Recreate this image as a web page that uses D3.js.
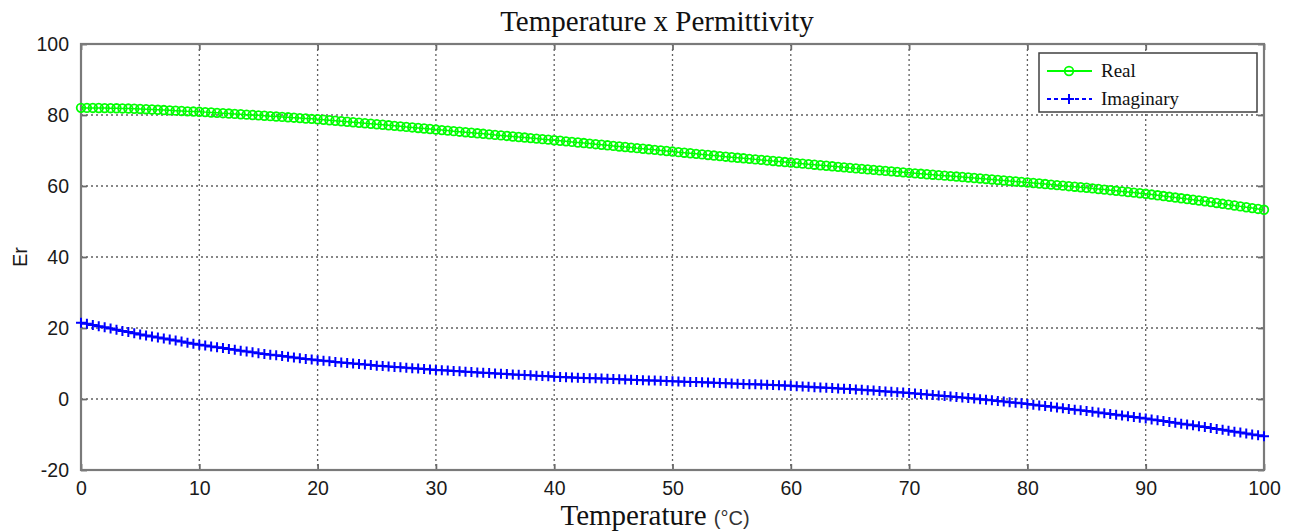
<!DOCTYPE html>
<html lang="en">
<head>
    <meta charset="UTF-8">
    <title>Temperature x Permittivity</title>
    <script src="https://d3js.org/d3.v7.min.js"></script>
    <style>
        body { margin: 0; background: #fff; }
        .tick-label { font-family: "Liberation Sans", Arial, sans-serif; font-size: 19.5px; fill: #1a1a1a; }
        .grid { stroke: #606060; stroke-width: 1.3; stroke-dasharray: 2,3; }
    </style>
</head>
<body>
<svg width="1293" height="532"></svg>

<script>
    // temperature samples (°C)
    var temperature = [
        0,0.5,1,1.5,2,2.5,3,3.5,4,4.5,5,5.5,6,6.5,7,7.5,8,8.5,9,9.5,
        10,10.5,11,11.5,12,12.5,13,13.5,14,14.5,15,15.5,16,16.5,17,17.5,18,18.5,19,19.5,
        20,20.5,21,21.5,22,22.5,23,23.5,24,24.5,25,25.5,26,26.5,27,27.5,28,28.5,29,29.5,
        30,30.5,31,31.5,32,32.5,33,33.5,34,34.5,35,35.5,36,36.5,37,37.5,38,38.5,39,39.5,
        40,40.5,41,41.5,42,42.5,43,43.5,44,44.5,45,45.5,46,46.5,47,47.5,48,48.5,49,49.5,
        50,50.5,51,51.5,52,52.5,53,53.5,54,54.5,55,55.5,56,56.5,57,57.5,58,58.5,59,59.5,
        60,60.5,61,61.5,62,62.5,63,63.5,64,64.5,65,65.5,66,66.5,67,67.5,68,68.5,69,69.5,
        70,70.5,71,71.5,72,72.5,73,73.5,74,74.5,75,75.5,76,76.5,77,77.5,78,78.5,79,79.5,
        80,80.5,81,81.5,82,82.5,83,83.5,84,84.5,85,85.5,86,86.5,87,87.5,88,88.5,89,89.5,
        90,90.5,91,91.5,92,92.5,93,93.5,94,94.5,95,95.5,96,96.5,97,97.5,98,98.5,99,99.5,
        100
    ];

    var realPart = [
        82.02,82.00,81.99,81.97,81.95,81.92,81.89,81.85,81.81,81.76,
        81.70,81.63,81.55,81.47,81.39,81.31,81.22,81.13,81.03,80.97,
        80.90,80.81,80.71,80.61,80.51,80.41,80.31,80.21,80.10,80.00,
        79.90,79.79,79.68,79.57,79.46,79.35,79.24,79.13,79.02,78.91,
        78.80,78.66,78.52,78.38,78.24,78.10,77.96,77.82,77.68,77.54,
        77.40,77.25,77.10,76.95,76.80,76.65,76.50,76.35,76.20,76.05,
        75.90,75.75,75.60,75.45,75.30,75.15,75.00,74.85,74.70,74.55,
        74.40,74.25,74.10,73.95,73.80,73.65,73.50,73.35,73.20,73.05,
        72.90,72.74,72.58,72.42,72.26,72.10,71.94,71.78,71.62,71.46,
        71.30,71.14,70.98,70.82,70.66,70.50,70.34,70.18,70.02,69.86,
        69.70,69.54,69.38,69.22,69.06,68.90,68.74,68.58,68.42,68.26,
        68.10,67.95,67.80,67.65,67.50,67.35,67.20,67.05,66.90,66.75,
        66.60,66.45,66.30,66.15,66.00,65.85,65.70,65.55,65.40,65.25,
        65.10,64.96,64.82,64.68,64.54,64.40,64.26,64.12,63.98,63.84,
        63.70,63.57,63.44,63.31,63.18,63.05,62.92,62.79,62.66,62.53,
        62.40,62.26,62.12,61.98,61.84,61.70,61.56,61.42,61.28,61.14,
        61.00,60.85,60.70,60.55,60.40,60.25,60.10,59.95,59.80,59.65,
        59.50,59.33,59.16,58.99,58.82,58.65,58.48,58.31,58.14,57.97,
        57.80,57.59,57.38,57.17,56.96,56.75,56.54,56.33,56.12,55.91,
        55.70,55.46,55.22,54.98,54.74,54.50,54.26,54.02,53.78,53.54,
        53.30
    ];

    var imagPart = [
        21.50,21.17,20.84,20.51,20.18,19.85,19.52,19.19,18.86,18.53,
        18.20,17.91,17.62,17.33,17.04,16.75,16.46,16.17,15.88,15.59,
        15.30,15.06,14.82,14.58,14.34,14.10,13.86,13.62,13.38,13.14,
        12.90,12.70,12.50,12.30,12.10,11.90,11.70,11.50,11.30,11.10,
        10.90,10.75,10.60,10.45,10.30,10.15,10.00,9.85,9.70,9.55,
        9.40,9.28,9.16,9.04,8.92,8.80,8.68,8.56,8.44,8.32,
        8.20,8.10,8.00,7.90,7.80,7.70,7.60,7.50,7.40,7.30,
        7.20,7.11,7.02,6.93,6.84,6.75,6.66,6.57,6.48,6.39,
        6.30,6.23,6.16,6.09,6.02,5.95,5.88,5.81,5.74,5.67,
        5.60,5.54,5.48,5.42,5.36,5.30,5.24,5.18,5.12,5.06,
        5.00,4.94,4.88,4.82,4.76,4.70,4.64,4.58,4.52,4.46,
        4.40,4.33,4.26,4.19,4.12,4.05,3.98,3.91,3.84,3.77,
        3.70,3.61,3.52,3.43,3.34,3.25,3.16,3.07,2.98,2.89,
        2.80,2.69,2.58,2.47,2.36,2.25,2.14,2.03,1.92,1.81,
        1.70,1.56,1.42,1.28,1.14,1.00,0.86,0.72,0.58,0.44,
        0.30,0.13,-0.04,-0.21,-0.38,-0.55,-0.72,-0.89,-1.06,-1.23,
        -1.40,-1.60,-1.80,-2.00,-2.20,-2.40,-2.60,-2.80,-3.00,-3.20,
        -3.40,-3.61,-3.82,-4.03,-4.24,-4.45,-4.66,-4.87,-5.08,-5.29,
        -5.50,-5.74,-5.98,-6.22,-6.46,-6.70,-6.94,-7.18,-7.42,-7.66,
        -7.90,-8.16,-8.42,-8.68,-8.94,-9.20,-9.46,-9.72,-9.98,-10.24,
        -10.50
    ];

    var xTicks = [0, 10, 20, 30, 40, 50, 60, 70, 80, 90, 100];
    var yTicks = [-20, 0, 20, 40, 60, 80, 100];
    var seriesNames = ["Real", "Imaginary"];

    var svg = d3.select("svg"),
        pLeft = 81, pRight = 1264, pTop = 44, pBottom = 470;

    var x = d3.scaleLinear().domain([0, 100]).range([pLeft, pRight]),
        y = d3.scaleLinear().domain([-20, 100]).range([pBottom, pTop]);

    // dotted grid
    var g = svg.append("g");
    g.selectAll(".gx").data(xTicks.slice(1, -1)).enter().append("line")
        .attr("class", "grid")
        .attr("x1", function(d) { return x(d); }).attr("x2", function(d) { return x(d); })
        .attr("y1", pTop).attr("y2", pBottom);
    g.selectAll(".gy").data(yTicks.slice(1, -1)).enter().append("line")
        .attr("class", "grid")
        .attr("y1", function(d) { return y(d); }).attr("y2", function(d) { return y(d); })
        .attr("x1", pLeft).attr("x2", pRight);

    // axes with inward ticks on all sides (box on)
    var tickLen = 6;
    svg.append("g").attr("transform", "translate(0," + pBottom + ")")
        .call(d3.axisBottom(x).tickValues(xTicks).tickSizeInner(-tickLen).tickSizeOuter(0)
            .tickPadding(11).tickFormat(String));
    svg.append("g").attr("transform", "translate(0," + pTop + ")")
        .call(d3.axisTop(x).tickValues(xTicks).tickSizeInner(-tickLen).tickSizeOuter(0).tickFormat(""));
    svg.append("g").attr("transform", "translate(" + pLeft + ",0)")
        .call(d3.axisLeft(y).tickValues(yTicks).tickSizeInner(-tickLen).tickSizeOuter(0)
            .tickPadding(12).tickFormat(String));
    svg.append("g").attr("transform", "translate(" + pRight + ",0)")
        .call(d3.axisRight(y).tickValues(yTicks).tickSizeInner(-tickLen).tickSizeOuter(0).tickFormat(""));

    svg.selectAll(".domain").remove();
    svg.selectAll(".tick line").attr("stroke", "#6a6a6a").attr("stroke-width", 1.8);
    svg.selectAll(".tick text").attr("class", "tick-label").attr("fill", "#1a1a1a");

    svg.append("rect")
        .attr("x", pLeft).attr("y", pTop)
        .attr("width", pRight - pLeft).attr("height", pBottom - pTop)
        .attr("fill", "none").attr("stroke", "#7a7a7a").attr("stroke-width", 2.2);

    // series
    var realData = temperature.map(function(t, i) { return [t, realPart[i]]; });
    var imagData = temperature.map(function(t, i) { return [t, imagPart[i]]; });
    var line = d3.line().x(function(d) { return x(d[0]); }).y(function(d) { return y(d[1]); });

    svg.append("path").datum(realData).attr("d", line)
        .attr("fill", "none").attr("stroke", "#00ff00").attr("stroke-width", 1.5);
    svg.selectAll(".mr").data(realData).enter().append("circle")
        .attr("cx", function(d) { return x(d[0]); })
        .attr("cy", function(d) { return y(d[1]); })
        .attr("r", 4.3).attr("fill", "none").attr("stroke", "#00ff00").attr("stroke-width", 1.8);

    svg.append("path").datum(imagData).attr("d", line)
        .attr("fill", "none").attr("stroke", "#0000ff").attr("stroke-width", 1.5)
        .attr("stroke-dasharray", "5,3");
    svg.selectAll(".mi").data(imagData).enter().append("path")
        .attr("transform", function(d) { return "translate(" + x(d[0]) + "," + y(d[1]) + ")"; })
        .attr("d", "M-5,0H5M0,-5V5")
        .attr("stroke", "#0000ff").attr("stroke-width", 2);

    // titles
    svg.append("text").attr("x", 657).attr("y", 31).attr("text-anchor", "middle")
        .attr("font-family", "Liberation Serif, Times New Roman, serif").attr("font-size", 29).attr("fill", "#111")
        .text("Temperature x Permittivity");

    var xl = svg.append("text").attr("x", 655).attr("y", 525).attr("text-anchor", "middle")
        .attr("font-family", "Liberation Serif, Times New Roman, serif").attr("font-size", 29).attr("fill", "#111");
    xl.append("tspan").text("Temperature ");
    xl.append("tspan").attr("font-family", "Liberation Sans, Arial, sans-serif").attr("font-size", 20)
        .attr("fill", "#333").text("(°C)");

    svg.append("text").attr("transform", "translate(27,257) rotate(-90)").attr("text-anchor", "middle")
        .attr("font-family", "Liberation Sans, Arial, sans-serif").attr("font-size", 20).attr("fill", "#1a1a1a")
        .text("Er");

    // legend
    var lg = svg.append("g");
    lg.append("rect").attr("x", 1039).attr("y", 53).attr("width", 218).attr("height", 59)
        .attr("fill", "#fff").attr("stroke", "#404040").attr("stroke-width", 1.5);
    var rows = [
        { name: seriesNames[0], color: "#00ff00", dash: null, y: 71 },
        { name: seriesNames[1], color: "#0000ff", dash: "4,3", y: 99 }
    ];
    rows.forEach(function(r, i) {
        lg.append("line").attr("x1", 1047).attr("x2", 1092).attr("y1", r.y).attr("y2", r.y)
            .attr("stroke", r.color).attr("stroke-width", 2).attr("stroke-dasharray", r.dash);
        if (i === 0) {
            lg.append("circle").attr("cx", 1069).attr("cy", r.y).attr("r", 4.3)
                .attr("fill", "none").attr("stroke", r.color).attr("stroke-width", 1.8);
        } else {
            lg.append("path").attr("transform", "translate(1069," + r.y + ")")
                .attr("d", "M-5,0H5M0,-5V5").attr("stroke", r.color).attr("stroke-width", 2);
        }
        lg.append("text").attr("x", 1101).attr("y", r.y + 6)
            .attr("font-family", "Liberation Serif, Times New Roman, serif").attr("font-size", 19).attr("fill", "#111")
            .text(r.name);
    });
</script>
</body>
</html>
